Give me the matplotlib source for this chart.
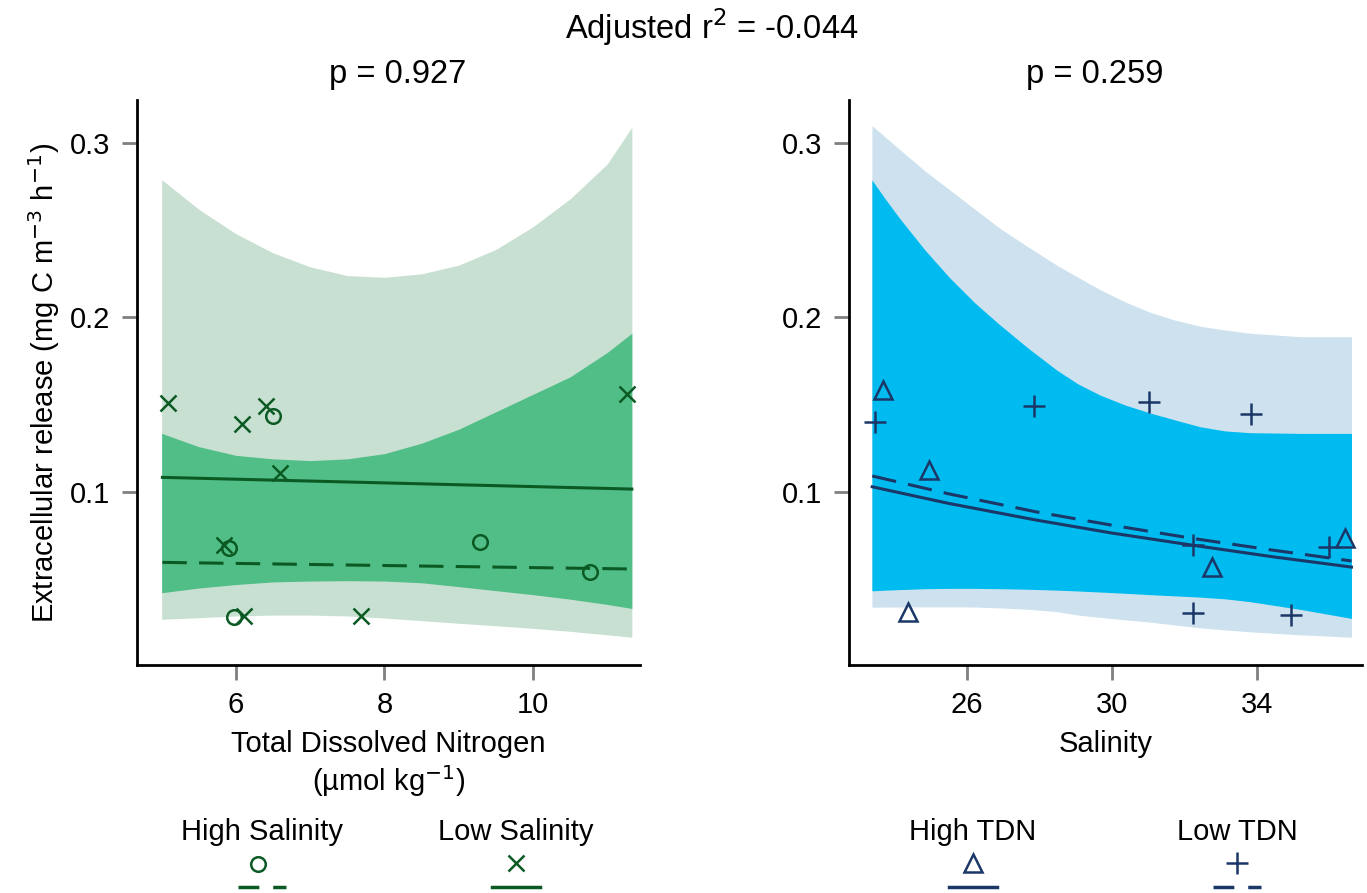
"""
Extracellular release vs TDN and salinity: two-panel fit plot with
confidence bands and a hand-built legend under each panel.
"""
import numpy as np
import matplotlib
matplotlib.use("Agg")
import matplotlib.pyplot as plt

plt.rcParams["font.family"] = ["Liberation Sans", "DejaVu Sans"]

# --- left panel: TDN ---
tdn_high_sal = [5.91, 5.98, 6.50, 9.28, 10.77]
er_high_sal  = [0.0677, 0.0285, 0.1436, 0.0715, 0.0543]
tdn_low_sal  = [5.08, 6.08, 6.40, 6.59, 5.84, 6.11, 7.69, 11.26]
er_low_sal   = [0.151, 0.139, 0.149, 0.1107, 0.0696, 0.029, 0.029, 0.156]

tdn_fit_x      = [5.01, 11.33]
fit_low_sal    = [0.1084, 0.1017]
fit_high_sal   = [0.0597, 0.0559]

tdn_band_x     = [5.0, 5.5, 6.0, 6.5, 7.0, 7.5, 8.0, 8.5, 9.0, 9.5, 10.0, 10.5, 11.0, 11.33]
tdn_outer_hi   = [0.279, 0.262, 0.248, 0.237, 0.229, 0.224, 0.223, 0.225, 0.230, 0.239, 0.252, 0.268, 0.288, 0.309]
tdn_outer_lo   = [0.0271, 0.028, 0.029, 0.0295, 0.0295, 0.029, 0.0278, 0.0263, 0.0248, 0.0234, 0.0219, 0.0202, 0.0182, 0.0168]
tdn_inner_hi   = [0.1336, 0.126, 0.121, 0.119, 0.118, 0.119, 0.122, 0.128, 0.136, 0.146, 0.156, 0.166, 0.180, 0.191]
tdn_inner_lo   = [0.0423, 0.045, 0.047, 0.0485, 0.049, 0.0492, 0.049, 0.048, 0.0458, 0.0435, 0.0412, 0.0386, 0.0356, 0.0333]

# --- right panel: salinity ---
sal_high_tdn = [23.69, 24.97, 24.39, 32.75, 36.42]
er_high_tdn  = [0.1585, 0.1126, 0.0314, 0.0568, 0.0735]
sal_low_tdn  = [23.48, 27.86, 31.02, 33.83, 32.24, 35.99, 32.24, 34.93]
er_low_tdn   = [0.1403, 0.1493, 0.1514, 0.1447, 0.0696, 0.0683, 0.0305, 0.0295]

sal_fit_x     = [23.4, 25.5, 27.9, 30.0, 32.2, 34.4, 36.6]
fit_high_tdn  = [0.103, 0.0935, 0.084, 0.0765, 0.0696, 0.063, 0.057]
fit_low_tdn   = [0.1092, 0.099, 0.0887, 0.081, 0.0735, 0.0668, 0.0605]

sal_band_x    = [23.39, 23.78, 24.17, 24.85, 25.54, 26.23, 26.92, 27.69, 28.48, 29.07,
                 29.67, 30.36, 31.05, 31.74, 32.43, 33.12, 33.8, 35.18, 36.6]
sal_outer_hi  = [0.310, 0.303, 0.296, 0.284, 0.273, 0.262, 0.251, 0.2405, 0.230, 0.223,
                 0.216, 0.209, 0.203, 0.1985, 0.195, 0.1928, 0.191, 0.189, 0.189]
sal_outer_lo  = [0.034, 0.0341, 0.0341, 0.0342, 0.0342, 0.0341, 0.0336, 0.0328, 0.0315, 0.0295,
                 0.0282, 0.0268, 0.0255, 0.0238, 0.0222, 0.021, 0.0199, 0.0182, 0.0168]
sal_inner_hi  = [0.2788, 0.2673, 0.2564, 0.2387, 0.2226, 0.2083, 0.1957, 0.1825, 0.1699, 0.1619,
                 0.1556, 0.1499, 0.1453, 0.1413, 0.1374, 0.135, 0.134, 0.1336, 0.1336]
sal_inner_lo  = [0.0434, 0.0438, 0.0441, 0.0446, 0.0448, 0.0448, 0.0446, 0.0443, 0.0438, 0.0433,
                 0.0427, 0.042, 0.0412, 0.0405, 0.0398, 0.0388, 0.0372, 0.0328, 0.0276]

GREEN      = "#0b5a24"
GREEN_IN   = "#52be87"
GREEN_OUT  = "#c8e0d2"
NAVY       = "#1b3768"
CYAN_IN    = "#00bbef"
BLUE_OUT   = "#cde2ee"

W, H = 1367, 893
fig = plt.figure(figsize=(W / 100, H / 100), dpi=100)


def px_axes(x0, y0, x1, y1):
    return fig.add_axes([x0 / W, 1 - y1 / H, (x1 - x0) / W, (y1 - y0) / H])


def style(ax):
    for side in ("top", "right"):
        ax.spines[side].set_visible(False)
    for side in ("left", "bottom"):
        ax.spines[side].set_linewidth(2.0)
        ax.spines[side].set_color("black")
    ax.tick_params(length=11, width=2, color="#808080", labelsize=21, pad=8)
    ax.set_ylim(0.0009, 0.3246)
    ax.set_yticks([0.1, 0.2, 0.3])
    ax.set_yticklabels(["0.1", "0.2", "0.3"])


ax1 = px_axes(137, 100, 640, 665)
ax1.fill_between(tdn_band_x, tdn_outer_lo, tdn_outer_hi, color=GREEN_OUT, lw=0)
ax1.fill_between(tdn_band_x, tdn_inner_lo, tdn_inner_hi, color=GREEN_IN, lw=0)
ax1.plot(tdn_fit_x, fit_low_sal, color=GREEN, lw=2.2)
ax1.plot(tdn_fit_x, fit_high_sal, color=GREEN, lw=2.2, dashes=(8, 4))
ax1.plot(tdn_high_sal, er_high_sal, "o", ms=10.5, mfc="none", mec=GREEN, mew=1.8)
ax1.plot(tdn_low_sal, er_low_sal, "x", ms=11, mec=GREEN, mew=1.8)
ax1.set_xlim(4.668, 11.44)
ax1.set_xticks([6, 8, 10])
style(ax1)
ax1.set_ylabel("Extracellular release (mg C m$^{-3}$ h$^{-1}$)", fontsize=21, labelpad=6)
ax1.set_xlabel("Total Dissolved Nitrogen\n(µmol kg$^{-1}$)", fontsize=21,
               labelpad=8, linespacing=1.15)

ax2 = px_axes(849, 100, 1362, 665)
ax2.fill_between(sal_band_x, sal_outer_lo, sal_outer_hi, color=BLUE_OUT, lw=0)
ax2.fill_between(sal_band_x, sal_inner_lo, sal_inner_hi, color=CYAN_IN, lw=0)
ax2.plot(sal_fit_x, fit_high_tdn, color=NAVY, lw=2.2)
ax2.plot(sal_fit_x, fit_low_tdn, color=NAVY, lw=2.2, dashes=(8, 4))
ax2.plot(sal_high_tdn, er_high_tdn, "^", ms=13, mfc="none", mec=NAVY, mew=1.8)
ax2.plot(sal_low_tdn, er_low_tdn, "+", ms=16, mec=NAVY, mew=1.8)
ax2.set_xlim(22.76, 36.89)
ax2.set_xticks([26, 30, 34])
style(ax2)
ax2.set_xlabel("Salinity", fontsize=21, labelpad=8)

fig.text(712 / W, 1 - 27 / H, "Adjusted r$^2$ = -0.044", fontsize=23.5,
         ha="center", va="center")
fig.text(398 / W, 1 - 75 / H, "p = 0.927", fontsize=23.5, ha="center", va="center")
fig.text(1095 / W, 1 - 75 / H, "p = 0.259", fontsize=23.5, ha="center", va="center")

# --- legends (label, marker, line sample) drawn on a blank overlay ---
leg = fig.add_axes([0, 0, 1, 1])
leg.set_xlim(0, W)
leg.set_ylim(H, 0)
leg.axis("off")
legend_items = [
    ("High Salinity", 262, "o", 16, GREEN, (6, 4)),
    ("Low Salinity", 516, "x", 11, GREEN, None),
    ("High TDN", 973, "^", 13, NAVY, None),
    ("Low TDN", 1237, "+", 16, NAVY, (6, 4)),
]
for label, cx, mk, ms, col, dash in legend_items:
    leg.text(cx, 832, label, fontsize=21, ha="center", va="center")
    if mk == "o":
        leg.plot([cx - 4], [864], mk, ms=10.5, mfc="none", mec=col, mew=1.8)
    else:
        leg.plot([cx], [863], mk, ms=ms, mfc="none", mec=col, mew=1.8)
    kw = dict(color=col, lw=2.5)
    if dash:
        kw["dashes"] = dash
    leg.plot([cx - 24, cx + 24], [887, 887], **kw)

fig.savefig("out.png", dpi=100)
